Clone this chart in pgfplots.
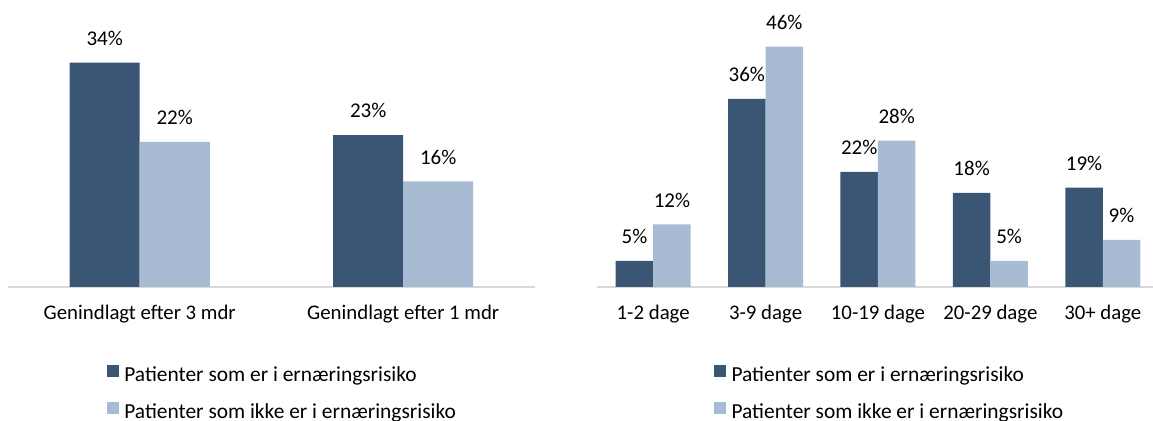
\documentclass[border=0pt]{standalone}
\usepackage{pgfplots}
\pgfplotsset{compat=1.18}
\usepackage{fontspec}
\setmainfont{Carlito}

\definecolor{darkbar}{HTML}{3B5675}
\definecolor{lightbar}{HTML}{A7BBD3}
\definecolor{axisgray}{HTML}{D9D9D9}

\pgfplotsset{
  panel/.style={
    scale only axis,
    ybar=0pt,
    ymin=0,
    xmin=0.5,
    axis x line*=bottom,
    axis y line=none,
    x axis line style={draw=axisgray, line width=0.9pt, -},
    major tick length=0pt,
    ytick=\empty,
    clip=false,
    xtick=data,
    xticklabel style={anchor=base, yshift=-16.5pt, font=\fontsize{10.4}{12}\selectfont},
    /pgf/number format/assume math mode=true,
    nodes near coords={\pgfmathprintnumber{\pgfplotspointmeta}\%},
    every node near coord/.append style={anchor=base, yshift=8.6pt, font=\fontsize{10.5}{12}\selectfont, text=black},
    legend cell align=left,
    legend style={draw=none, fill=none, inner sep=0pt, column sep=2.8pt, row sep=8.5pt,
      nodes={inner sep=0pt, text height=7pt, text depth=2pt, font=\fontsize{10.7}{12}\selectfont}},
    legend image code/.code={\fill[##1] (0pt,-0.2pt) rectangle (5.9pt,5.7pt);},
  },
}

\begin{document}
\begin{tikzpicture}
\useasboundingbox (0,0) rectangle (576.5pt,210.5pt);

% left panel: genindlaeggelse
\begin{axis}[panel,
  at={(4pt,67pt)}, anchor=origin,
  width=263.5pt, height=132pt,
  xmax=2.5, ymax=40,
  bar width=35pt,
  xticklabels={Genindlagt efter 3 mdr, Genindlagt efter 1 mdr},
  legend style={at={(0.187,-0.405)}, anchor=west},
]
\addplot[fill=darkbar, draw=none] coordinates {(1,34) (2,23)};
\addplot[fill=lightbar, draw=none] coordinates {(1,22) (2,16)};
\legend{Patienter som er i ernæringsrisiko, Patienter som ikke er i ernæringsrisiko}
\end{axis}

% right panel: indlaeggelsesvarighed
\begin{axis}[panel,
  at={(298.5pt,67pt)}, anchor=origin,
  width=278pt, height=132pt,
  xmax=5.447, ymax=50.5,
  bar width=18.75pt,
  xticklabels={1-2 dage, 3-9 dage, 10-19 dage, 20-29 dage, 30+ dage},
  legend style={at={(0.21,-0.405)}, anchor=west},
]
\addplot[fill=darkbar, draw=none] coordinates {(1,5) (2,36) (3,22) (4,18) (5,19)};
\addplot[fill=lightbar, draw=none] coordinates {(1,12) (2,46) (3,28) (4,5) (5,9)};
\legend{Patienter som er i ernæringsrisiko, Patienter som ikke er i ernæringsrisiko}
\end{axis}
\end{tikzpicture}
\end{document}
